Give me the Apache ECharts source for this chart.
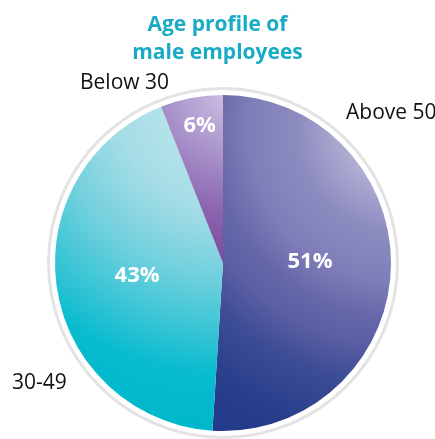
<!DOCTYPE html>
<html>
<head>
<meta charset="utf-8">
<script src="https://cdn.jsdelivr.net/npm/echarts@6/dist/echarts.min.js"></script>
<style>
  html, body { margin: 0; padding: 0; background: #fff; }
  #chart { width: 435px; height: 439px; }
</style>
</head>
<body>
<div id="chart"></div>
<script>
// Age groups and their share of male employees (%)
const categories = ['Above 50', '30-49', 'Below 30'];
const shares = [51, 43, 6];

const titleText = 'Age profile of\nmale employees';

// Slice fills: radial gradients in canvas pixels, lightest toward the upper right
const fills = [
  { cx: 400, cy: 130, r: 340,
    stops: ['#c4c2e0', '#b0aed2', '#8d8cc0', '#7e7db8', '#6668a9', '#5a5ea3', '#3c4c95', '#293f8c', '#243a8a'],
    at: [0, 0.16, 0.3, 0.45, 0.55, 0.64, 0.75, 0.9, 1] },
  { cx: 230, cy: 95, r: 330,
    stops: ['#c6eaf0', '#a6dde6', '#72d0dd', '#3ec6d6', '#08bbcf', '#00b8cc'],
    at: [0, 0.35, 0.55, 0.7, 0.85, 1] },
  { cx: 235, cy: 88, r: 175,
    stops: ['#d2c6e6', '#a891c9', '#8c66b0', '#7a4a9d'],
    at: [0, 0.4, 0.7, 1] }
];

// Where the category names sit around the pie
const namePlacement = [
  { x: 346, y: 113 },
  { x: 12, y: 383 },
  { x: 80, y: 83 }
];
// Nudge for the small slice's percentage so it sits nearer the rim
const pctOffset = [[0, -4], [0, -1], [-7, -52]];

function gradient(f) {
  return new echarts.graphic.RadialGradient(f.cx, f.cy, f.r,
    f.stops.map((c, i) => ({ offset: f.at[i], color: c })), true);
}

const chart = echarts.init(document.getElementById('chart'));
const center = [223, 263];
const font = '"Open Sans", "Noto Sans", sans-serif';

chart.setOption({
  animation: false,
  title: {
    text: titleText,
    left: 'center',
    top: 6,
    textStyle: {
      color: '#17abc4',
      fontFamily: font,
      fontWeight: 'bold',
      fontSize: 21,
      lineHeight: 28
    }
  },
  series: [
    {
      // thin grey ring around the pie
      type: 'pie',
      silent: true,
      center: center,
      radius: [173, 176],
      label: { show: false },
      labelLine: { show: false },
      itemStyle: { color: '#e3e3e3' },
      data: [1]
    },
    {
      type: 'pie',
      center: center,
      radius: [0, 168],
      startAngle: 90,
      clockwise: true,
      silent: true,
      avoidLabelOverlap: false,
      label: {
        show: true,
        position: 'inside',
        color: '#fff',
        fontFamily: font,
        fontWeight: 'bold',
        fontSize: 22,
        formatter: p => p.value + '%'
      },
      labelLine: { show: false },
      data: categories.map((name, i) => ({
        name: name,
        value: shares[i],
        itemStyle: { color: gradient(fills[i]) },
        label: { offset: pctOffset[i] }
      }))
    },
    {
      // category names, drawn over an invisible copy of the pie
      type: 'pie',
      center: center,
      radius: [0, 168],
      startAngle: 90,
      clockwise: true,
      silent: true,
      avoidLabelOverlap: false,
      itemStyle: { color: 'rgba(0,0,0,0)' },
      label: {
        show: true,
        position: 'inside',
        color: '#111',
        fontFamily: font,
        fontSize: 21,
        formatter: '{b}'
      },
      labelLine: { show: false },
      labelLayout: p => ({
        x: namePlacement[p.dataIndex].x,
        y: namePlacement[p.dataIndex].y,
        align: 'left',
        verticalAlign: 'middle'
      }),
      data: categories.map((name, i) => ({ name: name, value: shares[i] }))
    }
  ]
});
</script>
</body>
</html>
